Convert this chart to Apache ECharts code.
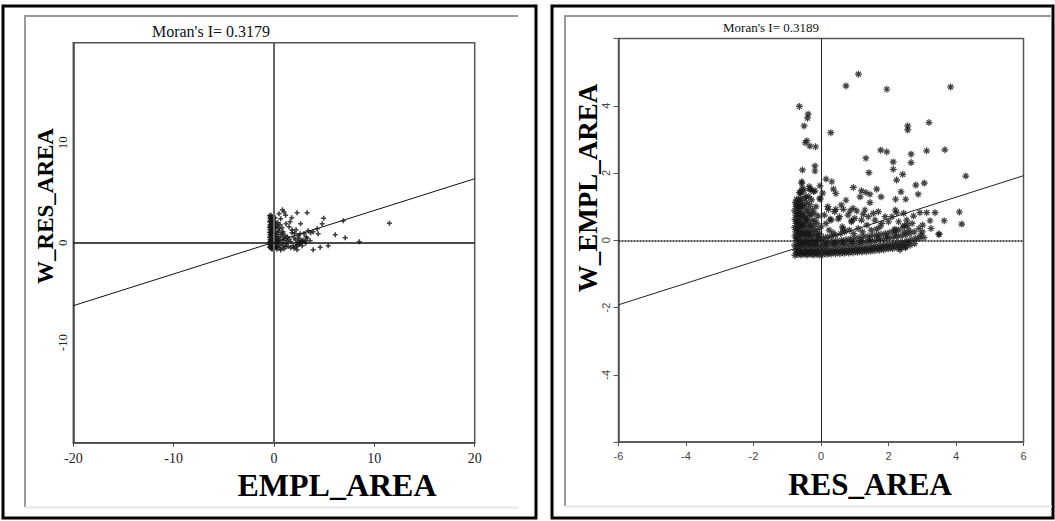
<!DOCTYPE html>
<html>
<head>
<meta charset="utf-8">
<script src="https://cdn.jsdelivr.net/npm/echarts@6/dist/echarts.min.js"></script>
<style>
html,body{margin:0;padding:0;background:#fff;}
#chart{width:1055px;height:521px;}
</style>
</head>
<body>
<div id="chart"></div>
<script>
// ---------- Text ----------
const leftTitle = "Moran's I= 0.3179";
const rightTitle = "Moran's I= 0.3189";
const leftXName = "EMPL_AREA";
const leftYName = "W_RES_AREA";
const rightXName = "RES_AREA";
const rightYName = "W_EMPL_AREA";

// ---------- Axis ranges / ticks ----------
const leftRange = [-20, 20];
const leftInterval = 10;
const leftYTickLabels = [-10, 0, 10];
const rightRange = [-6, 6];
const rightInterval = 2;
const rightYTickLabels = [-4, -2, 0, 2, 4];

// ---------- Regression lines (end points) ----------
const leftFit = [[-20, -6.3], [20, 6.4]];
const rightFit = [[-6, -1.92], [6, 1.92]];

// ---------- Left panel: EMPL_AREA vs W_RES_AREA ----------
const leftPoints = [
 [11.5,1.95],[8.5,0.1],[7.1,0.5],[6.9,2.2],[6.1,0.8],[5.4,-0.3],[4.6,-0.45],[3.9,-0.7],[4.95,2.45],[4.8,1.9],
 [4.3,1.4],[4.4,0.9],[3.9,1.1],[3.65,1.0],[3.3,3.0],[2.3,3.0],[2.65,1.9],[2.06,0.93],[3.0,0.93],[3.3,0.43],
 [2.7,0.2],[2.3,-0.2],[2.3,-0.7],[1.76,2.5],[1.6,2.1],[0.84,3.3],[1.0,3.07],[1.16,2.74],[0.5,2.9],[0.67,2.4],
 [1.5,1.6],[1.8,1.26],[1.33,0.6],[1.66,0.1],[1.16,-0.4],[0.67,-0.72],[1.66,-0.5],[2.8,0.1],[3.15,-0.06],[2.5,0.43],
 [2.16,0.27],[1.0,0.27],[0.84,0.93],[0.5,1.4],[0.33,0.43],[0.33,-0.4],
 [-0.45,2.7],[-0.3,2.75],[-0.1,2.6],[0.1,2.5],[-0.4,2.4],[-0.2,2.3],[0.0,2.2],[-0.45,2.1],[-0.25,2.0],[0.15,1.95],
 [-0.4,1.8],[-0.1,1.75],[0.2,1.6],[-0.45,1.55],[-0.3,1.45],[0.0,1.4],[-0.4,1.3],[-0.15,1.2],[0.1,1.15],[-0.45,1.05],
 [-0.25,0.95],[0.05,0.9],[-0.4,0.8],[-0.1,0.7],[0.2,0.65],[-0.45,0.55],[-0.3,0.45],[0.0,0.4],[-0.4,0.3],[-0.15,0.2],
 [0.1,0.15],[-0.45,0.05],[-0.25,-0.05],[0.05,-0.1],[-0.4,-0.2],[-0.1,-0.3],[0.2,-0.35],[-0.45,-0.45],[-0.3,-0.55],[0.0,-0.6],
 [-0.2,-0.65],[0.15,-0.5],
 [-0.35,2.55],[-0.05,2.45],[-0.35,2.2],[0.05,2.05],[-0.2,1.9],[-0.35,1.65],[0.1,1.5],[-0.2,1.35],[-0.05,1.1],[-0.35,1.0],
 [0.15,0.85],[-0.3,0.75],[-0.05,0.55],[-0.35,0.15],[0.15,0.3],[-0.05,0.05],[-0.35,-0.35],[0.1,-0.45],[-0.15,-0.5],[0.25,0.0],
 [0.4,2.0],[0.6,1.8],[0.3,1.7],[0.8,1.5],[0.5,1.2],[0.9,1.1],[0.35,1.0],[0.7,0.8],[1.1,0.7],[0.45,0.6],
 [0.9,0.5],[0.6,0.3],[1.3,0.2],[0.4,0.1],[0.8,0.0],[1.2,-0.1],[0.5,-0.2],[0.9,-0.3],[1.4,-0.35],[0.6,-0.5],
 [1.0,-0.6],[0.3,-0.65],[1.9,-0.3],[1.5,0.35],[2.0,0.5],[2.5,-0.2],[2.8,-0.3],[3.2,0.6],[3.6,0.2],[1.2,1.9],
 [1.8,1.0],[2.2,1.3],[2.4,0.7],[2.0,-0.55],[2.6,0.9],[3.4,1.2],[2.6,0.0],[2.9,0.25],[3.1,0.15],[2.4,0.1],[2.2,-0.4]
];

// ---------- Right panel: RES_AREA vs W_EMPL_AREA ----------
const rightScatter = [
 [1.11,4.94],[0.74,4.59],[1.95,4.49],[3.84,4.56],[-0.64,3.98],[-0.38,3.75],[-0.4,3.63],[-0.5,3.4],[0.29,3.2],[2.57,3.4],
 [2.57,3.28],[3.2,3.5],[-0.42,2.96],[-0.47,2.9],[-0.33,2.8],[-0.16,2.78],[1.33,2.44],[1.77,2.68],[1.95,2.63],[2.67,2.56],
 [2.67,2.31],[3.13,2.66],[3.67,2.69],[2.14,2.33],[2.14,2.11],[-0.55,2.09],[-0.18,2.21],[-0.18,2.06],[1.42,2.01],[4.29,1.91],
 [2.42,1.96],[2.24,1.79],[0.15,1.82],[0.32,1.74],[-0.57,1.74],[-0.6,1.44],[-0.33,1.52],[-0.18,1.47],[-0.03,1.62],[0.37,1.52],
 [0.44,1.39],[0.96,1.57],[1.2,1.47],[1.33,1.42],[1.45,1.37],[1.65,1.52],[1.16,1.29],[0.74,1.19],[1.45,1.12],[1.78,1.29],
 [2.21,1.22],[2.37,1.44],[2.51,1.22],[2.81,1.64],[3.06,1.7],[2.88,1.37],[-0.03,1.22],[4.1,0.84],[4.17,0.48],[3.65,0.58],
 [3.49,0.18],[3.38,0.82],[3.13,0.82],[2.93,0.82],[3.23,0.58],[3.26,0.35],[3.01,0.45],[2.74,0.72],[2.54,0.6],[2.47,0.43],
 [2.24,0.82],[2.19,0.33],[1.65,0.33],[1.55,0.8],[1.25,0.77],[1.06,0.87],[0.86,0.87],[0.66,0.92],[0.44,0.92],[0.22,0.92],
 [0.27,0.63],[0.51,0.63],[0.91,0.58],[0.66,0.33],[-0.45,1.3],[-0.35,1.6],
 [0.3,0.6],[0.55,0.7],[0.8,0.75],[1.0,0.65],[1.2,0.6],[1.4,0.7],[1.6,0.6],[1.8,0.5],[2.1,0.7],[2.3,0.55],
 [2.6,0.3],[2.7,0.5],[2.9,0.35],[1.3,0.9],[0.95,0.95],[0.6,1.05],[0.4,0.85],[1.7,0.85],[1.9,0.7],[2.2,0.9],
 [2.45,0.8],[0.15,0.5],[0.1,0.75],[0.2,1.0],[0.05,1.4],[3.5,0.18],[2.34,-0.28],[2.5,-0.22]
];
const rightBlob = [
 [-0.77,-0.45],[-0.75,-0.3],[-0.78,-0.15],[-0.74,0.0],[-0.77,0.12],[-0.75,0.25],[-0.78,0.38],[-0.74,0.5],[-0.77,0.62],[-0.75,0.75],
 [-0.78,0.88],[-0.74,1.0],[-0.76,1.12],[-0.73,1.22],
 [-0.68,-0.42],[-0.66,-0.28],[-0.69,-0.12],[-0.65,0.03],[-0.68,0.18],[-0.66,0.3],[-0.69,0.45],[-0.65,0.58],[-0.68,0.7],[-0.66,0.84],
 [-0.69,0.96],[-0.65,1.08],[-0.67,1.18],[-0.64,1.42],[-0.6,1.4],
 [-0.59,-0.44],[-0.57,-0.3],[-0.6,-0.16],[-0.56,-0.02],[-0.59,0.12],[-0.57,0.26],[-0.6,0.4],[-0.56,0.52],[-0.59,0.66],[-0.57,0.8],
 [-0.6,0.94],[-0.55,1.05],[-0.58,1.18],[-0.55,1.55],[-0.57,1.7],[-0.5,1.48],
 [-0.5,-0.42],[-0.48,-0.28],[-0.51,-0.14],[-0.47,0.0],[-0.5,0.14],[-0.48,0.28],[-0.51,0.42],[-0.46,0.55],[-0.49,0.7],[-0.45,0.85],
 [-0.5,1.0],[-0.43,1.12],[-0.47,1.25],
 [-0.41,-0.44],[-0.39,-0.3],[-0.42,-0.16],[-0.38,-0.03],[-0.41,0.1],[-0.37,0.24],[-0.4,0.38],[-0.36,0.5],[-0.4,0.64],[-0.35,0.78],
 [-0.38,0.92],[-0.33,1.05],[-0.36,1.3],[-0.3,1.5],
 [-0.32,-0.42],[-0.3,-0.28],[-0.33,-0.14],[-0.29,0.0],[-0.32,0.14],[-0.28,0.28],[-0.31,0.42],[-0.27,0.58],[-0.3,0.75],[-0.25,0.9],
 [-0.28,1.2],
 [-0.23,-0.44],[-0.21,-0.3],[-0.24,-0.16],[-0.2,-0.02],[-0.23,0.12],[-0.19,0.26],[-0.22,0.42],[-0.18,0.6],[-0.2,0.8],[-0.15,1.0],
 [-0.22,1.45],
 [-0.14,-0.42],[-0.12,-0.28],[-0.15,-0.14],[-0.11,0.0],[-0.13,0.16],[-0.1,0.32],[-0.12,0.5],[-0.08,0.72],
 [-0.05,-0.44],[-0.03,-0.3],[-0.06,-0.15],[-0.02,0.02],[-0.04,0.2],[0.0,0.4],[-0.03,1.25],
 [-0.72,-0.37],[-0.71,-0.2],[-0.72,0.07],[-0.71,0.33],[-0.72,0.56],[-0.71,0.8],[-0.72,1.05],
 [-0.63,-0.36],[-0.62,-0.08],[-0.63,0.22],[-0.62,0.48],[-0.63,0.76],[-0.62,1.0],[-0.62,1.25],
 [-0.54,-0.37],[-0.53,-0.09],[-0.54,0.19],[-0.53,0.46],[-0.54,0.73],
 [-0.45,-0.36],[-0.44,-0.07],[-0.45,0.21],[-0.44,0.62],[-0.36,-0.36],[-0.35,-0.09],[-0.35,0.17],
 [-0.27,-0.36],[-0.26,-0.07],[-0.17,-0.36],[-0.16,-0.08],[-0.09,-0.36],[-0.08,0.1]
];
const rightBand = [
 [0.05,-0.43],[0.08,-0.3],[0.04,-0.18],[0.1,-0.06],[0.07,0.08],
 [0.18,-0.42],[0.2,-0.29],[0.16,-0.17],[0.22,-0.05],[0.19,0.1],[0.24,0.3],
 [0.3,-0.41],[0.33,-0.28],[0.29,-0.15],[0.35,-0.03],[0.31,0.12],[0.36,0.22],
 [0.43,-0.4],[0.46,-0.27],[0.42,-0.14],[0.48,-0.02],[0.44,0.15],
 [0.56,-0.4],[0.59,-0.26],[0.55,-0.13],[0.61,0.0],[0.58,0.2],[0.63,0.4],
 [0.69,-0.39],[0.72,-0.25],[0.68,-0.12],[0.74,0.02],[0.7,0.25],
 [0.82,-0.38],[0.85,-0.24],[0.81,-0.11],[0.87,0.04],[0.84,0.3],[0.9,0.55],
 [0.95,-0.37],[0.98,-0.23],[0.94,-0.1],[1.0,0.06],[0.97,0.2],
 [1.08,-0.36],[1.11,-0.22],[1.07,-0.09],[1.13,0.08],[1.1,0.35],
 [1.21,-0.35],[1.24,-0.21],[1.2,-0.07],[1.26,0.1],[1.23,0.25],
 [1.34,-0.34],[1.37,-0.2],[1.33,-0.06],[1.39,0.12],[1.36,0.45],
 [1.47,-0.33],[1.5,-0.19],[1.46,-0.04],[1.52,0.14],[1.49,0.3],
 [1.6,-0.31],[1.63,-0.17],[1.59,-0.02],[1.65,0.16],
 [1.73,-0.3],[1.76,-0.15],[1.72,0.0],[1.78,0.18],[1.75,0.4],
 [1.86,-0.28],[1.89,-0.13],[1.85,0.03],[1.91,0.2],
 [1.99,-0.26],[2.02,-0.11],[1.98,0.05],[2.04,0.24],[2.0,0.55],
 [2.12,-0.25],[2.15,-0.09],[2.11,0.08],[2.17,0.28],
 [2.25,-0.23],[2.28,-0.07],[2.24,0.1],[2.3,0.3],
 [2.38,-0.22],[2.41,-0.05],[2.37,0.13],[2.43,0.4],
 [2.51,-0.2],[2.54,-0.02],[2.5,0.16],[2.56,0.45],
 [2.64,-0.15],[2.67,0.02],[2.63,0.2],
 [2.77,-0.1],[2.8,0.06],[2.76,0.25],[2.9,0.05],[2.95,0.15],[3.05,0.08],[3.0,0.25],
 [0.12,-0.36],[0.25,-0.35],[0.38,-0.34],[0.51,-0.34],[0.64,-0.33],[0.77,-0.32],[0.9,-0.31],[1.03,-0.3],[1.16,-0.29],[1.29,-0.28],
 [1.42,-0.27],[1.55,-0.25],[1.68,-0.24],[1.81,-0.22],[1.94,-0.2],[2.07,-0.19],[2.2,-0.17],[2.33,-0.15],[2.46,-0.12],[2.59,-0.08],
 [0.14,-0.11],[0.4,-0.09],[0.65,-0.06],[0.92,-0.04],[1.18,-0.02],[1.44,0.02],[1.7,0.07],[1.95,0.12],[2.2,0.18],[2.47,0.24]
];

// ---------- Styling ----------
const SERIF = '"Liberation Serif", "Times New Roman", serif';
const SANS = '"Liberation Sans", Arial, sans-serif';
const plusPath = 'path://M5,0L5,10M0,5L10,5';
const starPath = 'path://M5,0L5,10M0,5L10,5M1.6,1.6L8.4,8.4M1.6,8.4L8.4,1.6';

const chart = echarts.init(document.getElementById('chart'), null, {renderer: 'svg'});

function hideEnds(list) {
  return function (v) { return list.indexOf(v) >= 0 ? String(v) : ''; };
}

const option = {
  animation: false,
  backgroundColor: '#ffffff',
  grid: [
    {left: 73.3, top: 42.7, width: 401.4, height: 400, show: true, borderColor: '#555', borderWidth: 1.5, backgroundColor: '#fff'},
    {left: 618.5, top: 38.5, width: 405, height: 403.5, show: true, borderColor: '#555', borderWidth: 1.5, backgroundColor: '#fff'}
  ],
  xAxis: [
    {gridIndex: 0, type: 'value', min: leftRange[0], max: leftRange[1], interval: leftInterval,
     axisLine: {show: true, onZero: false, lineStyle: {color: '#444', width: 1.5}},
     axisTick: {show: true, length: 4, lineStyle: {color: '#444'}},
     splitLine: {show: false},
     axisLabel: {margin: 9, fontFamily: SERIF, fontSize: 14, color: '#222'}},
    {gridIndex: 1, type: 'value', min: rightRange[0], max: rightRange[1], interval: rightInterval,
     axisLine: {show: true, onZero: false, lineStyle: {color: '#555', width: 1.5}},
     axisTick: {show: true, length: 4, lineStyle: {color: '#555'}},
     splitLine: {show: false},
     axisLabel: {margin: 8, fontFamily: SANS, fontSize: 11, color: '#444'}}
  ],
  yAxis: [
    {gridIndex: 0, type: 'value', min: leftRange[0], max: leftRange[1], interval: leftInterval,
     axisLine: {show: true, onZero: false, lineStyle: {color: '#444', width: 1.5}},
     axisTick: {show: false},
     splitLine: {show: false},
     axisLabel: {rotate: 90, margin: 4, fontFamily: SERIF, fontSize: 13, color: '#222', formatter: hideEnds(leftYTickLabels)}},
    {gridIndex: 1, type: 'value', min: rightRange[0], max: rightRange[1], interval: rightInterval,
     axisLine: {show: true, onZero: false, lineStyle: {color: '#555', width: 1.5}},
     axisTick: {show: true, length: 5, lineStyle: {color: '#555'}},
     splitLine: {show: false},
     axisLabel: {rotate: 90, margin: 7, fontFamily: SANS, fontSize: 11, color: '#444', formatter: hideEnds(rightYTickLabels)}}
  ],
  series: [
    {type: 'scatter', xAxisIndex: 0, yAxisIndex: 0, data: leftPoints, symbol: plusPath, symbolSize: 5,
     itemStyle: {color: 'rgba(0,0,0,0)', borderColor: '#111', borderWidth: 1.6}, silent: true, z: 3,
     markLine: {silent: true, symbol: 'none', label: {show: false}, animation: false,
       data: [{xAxis: 0, lineStyle: {color: '#666', width: 2, type: 'solid'}},
              {yAxis: 0, lineStyle: {color: '#111', width: 1.5, type: 'solid'}}]}},
    {type: 'line', xAxisIndex: 0, yAxisIndex: 0, data: leftFit, showSymbol: false, symbol: 'none', silent: true,
     lineStyle: {color: '#111', width: 1}, z: 4},
    {type: 'scatter', xAxisIndex: 1, yAxisIndex: 1, data: rightBlob.concat(rightBand), symbol: starPath, symbolSize: 7,
     itemStyle: {color: 'rgba(0,0,0,0)', borderColor: '#151515', borderWidth: 1.2}, silent: true, z: 3,
     markLine: {silent: true, symbol: 'none', label: {show: false}, animation: false,
       data: [{xAxis: 0, lineStyle: {color: '#222', width: 1, type: 'solid'}},
              {yAxis: 0, lineStyle: {color: '#111', width: 1.5, type: [2, 1]}}]}},
    {type: 'scatter', xAxisIndex: 1, yAxisIndex: 1, data: rightScatter, symbol: starPath, symbolSize: 7,
     itemStyle: {color: 'rgba(0,0,0,0)', borderColor: '#151515', borderWidth: 1.2}, silent: true, z: 3},
    {type: 'line', xAxisIndex: 1, yAxisIndex: 1, data: rightFit, showSymbol: false, symbol: 'none', silent: true,
     lineStyle: {color: '#222', width: 1}, z: 4}
  ],
  graphic: [
    // panel frames
    {type: 'rect', shape: {x: 3, y: 6, width: 533, height: 512}, style: {fill: 'none', stroke: '#000', lineWidth: 3}, silent: true, z: -10},
    {type: 'polyline', shape: {points: [[25, 507], [25, 16], [518, 16]]}, style: {fill: 'none', stroke: '#999', lineWidth: 2}, silent: true, z: -10},
    {type: 'line', shape: {x1: 25, y1: 507.5, x2: 518, y2: 507.5}, style: {stroke: '#e6e6e6', lineWidth: 2}, silent: true, z: -10},
    {type: 'rect', shape: {x: 552, y: 6, width: 501, height: 512}, style: {fill: 'none', stroke: '#000', lineWidth: 3}, silent: true, z: -10},
    {type: 'polyline', shape: {points: [[565, 506], [565, 16], [1052, 16]]}, style: {fill: 'none', stroke: '#999', lineWidth: 2}, silent: true, z: -10},
    {type: 'line', shape: {x1: 565, y1: 506.5, x2: 1052, y2: 506.5}, style: {stroke: '#e6e6e6', lineWidth: 2}, silent: true, z: -10},
    // titles
    {type: 'text', x: 211, y: 31, style: {text: leftTitle, font: '16px ' + SERIF, fill: '#111', textAlign: 'center', textVerticalAlign: 'middle'}, silent: true},
    {type: 'text', x: 771, y: 27, style: {text: rightTitle, font: '13px ' + SERIF, fill: '#111', textAlign: 'center', textVerticalAlign: 'middle'}, silent: true},
    // axis names
    {type: 'text', x: 337, y: 485, style: {text: leftXName, font: 'bold 32px ' + SERIF, fill: '#000', textAlign: 'center', textVerticalAlign: 'middle'}, silent: true},
    {type: 'text', x: 45, y: 206, rotation: Math.PI / 2, style: {text: leftYName, font: 'bold 23px ' + SERIF, fill: '#000', textAlign: 'center', textVerticalAlign: 'middle'}, silent: true},
    {type: 'text', x: 870, y: 484, style: {text: rightXName, font: 'bold 31px ' + SERIF, fill: '#000', textAlign: 'center', textVerticalAlign: 'middle'}, silent: true},
    {type: 'text', x: 588, y: 188, rotation: Math.PI / 2, style: {text: rightYName, font: 'bold 27px ' + SERIF, fill: '#000', textAlign: 'center', textVerticalAlign: 'middle'}, silent: true}
  ]
};
chart.setOption(option);
</script>
</body>
</html>
